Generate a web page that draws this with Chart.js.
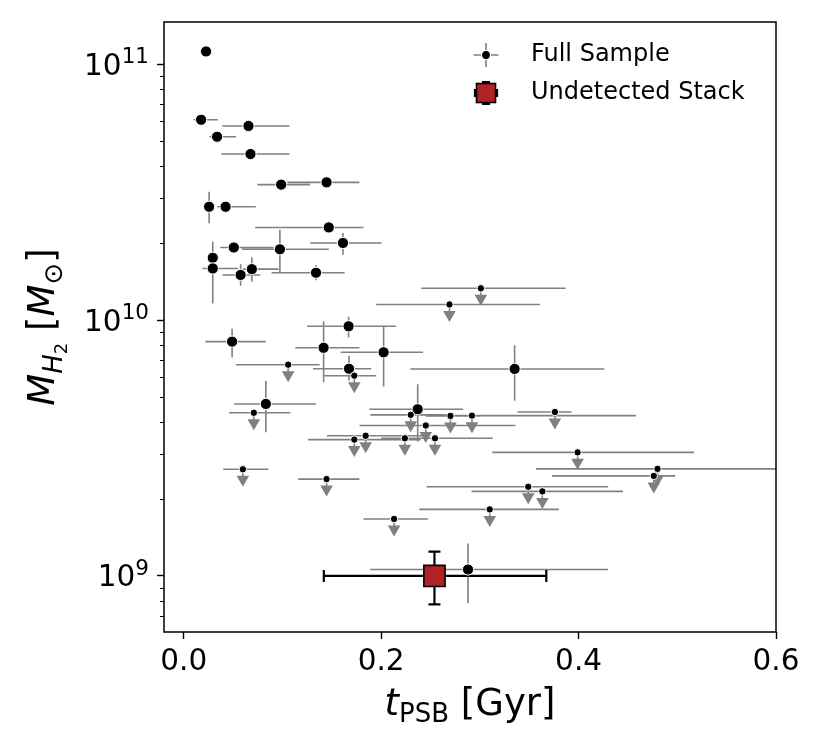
<!DOCTYPE html>
<html>
<head>
<meta charset="utf-8">
<script src="https://cdn.jsdelivr.net/npm/chart.js@4.4.0/dist/chart.umd.min.js"></script>
<style>
  html, body { margin: 0; padding: 0; background: #fff; }
  #wrap { width: 825px; height: 750px; }
</style>
</head>
<body>
<div id="wrap"><canvas id="myChart" width="825" height="750"></canvas></div>
<script>
// detections: t_PSB [Gyr], M_H2 [Msun], error bar ends (null = no bar)
const detT   = [0.0226, 0.0176, 0.0656, 0.0338, 0.0676, 0.0987, 0.1447, 0.0257, 0.0424, 0.1469, 0.1613, 0.0507, 0.0974,
                0.0294, 0.0294, 0.0576, 0.069, 0.134, 0.167, 0.049, 0.1417, 0.2025, 0.1674, 0.3352, 0.0832, 0.237, 0.288];
const detM   = [1.12e11, 6.06e10, 5.73e10, 5.20e10, 4.45e10, 3.38e10, 3.45e10, 2.77e10, 2.77e10, 2.30e10, 2.00e10, 1.92e10, 1.89e10,
                1.75e10, 1.59e10, 1.50e10, 1.58e10, 1.53e10, 9.45e9, 8.23e9, 7.79e9, 7.48e9, 6.45e9, 6.44e9, 4.70e9, 4.48e9, 1.06e9];
const detTLo = [null, 0.010, 0.039, 0.026, 0.038, 0.0745, 0.105, 0.020, 0.034, 0.0723, 0.128, 0.037, 0.059,
                0.025, 0.019, 0.0392, 0.060, 0.089, 0.125, 0.022, 0.113, 0.159, 0.131, 0.2296, 0.051, 0.188, 0.189];
const detTHi = [null, 0.0345, 0.107, 0.053, 0.107, 0.128, 0.178, 0.030, 0.073, 0.182, 0.2005, 0.091, 0.147,
                0.034, 0.055, 0.0775, 0.096, 0.163, 0.215, 0.083, 0.178, 0.2425, 0.19, 0.426, 0.134, 0.283, 0.43];
const detMLo = [null, null, null, null, null, null, null, 2.39e10, null, null, 1.80e10, null, 1.52e10,
                1.52e10, 1.16e10, 1.36e10, 1.41e10, 1.43e10, 8.55e9, 7.15e9, 5.71e9, 5.5e9, 5.8e9, 4.84e9, 3.64e9, 3.35e9, 7.82e8];
const detMHi = [null, null, null, null, null, null, null, 3.17e10, null, null, 2.19e10, null, 2.25e10,
                2.02e10, 1.84e10, 1.65e10, 1.76e10, 1.64e10, 1.03e10, 9.25e9, 9.9e9, 9.42e9, 7.23e9, 7.96e9, 5.78e9, 5.61e9, 1.34e9];

// upper limits
const limT   = [0.301, 0.2692, 0.1058, 0.1728, 0.071, 0.2299, 0.2702, 0.292, 0.376, 0.2452, 0.224, 0.2545,
                0.1728, 0.1843, 0.399, 0.0599, 0.48, 0.4762, 0.1447, 0.349, 0.3633, 0.310, 0.2131];
const limM   = [1.33e10, 1.15e10, 6.69e9, 6.06e9, 4.34e9, 4.26e9, 4.22e9, 4.23e9, 4.37e9, 3.87e9, 3.45e9, 3.45e9,
                3.41e9, 3.53e9, 3.04e9, 2.61e9, 2.62e9, 2.46e9, 2.39e9, 2.23e9, 2.14e9, 1.82e9, 1.67e9];
const limTLo = [0.2405, 0.195, 0.053, 0.1427, 0.046, 0.189, 0.245, 0.262, 0.338, 0.178, 0.20, 0.21,
                0.126, 0.145, 0.3125, 0.040, 0.357, 0.373, 0.116, 0.246, 0.2915, 0.2385, 0.182];
const limTHi = [0.387, 0.361, 0.1376, 0.1948, 0.108, 0.27, 0.30, 0.458, 0.393, 0.336, 0.30, 0.313,
                0.24, 0.245, 0.517, 0.0858, 0.62, 0.498, 0.178, 0.43, 0.445, 0.38, 0.2476];

// undetected stack
const stackT = [0.254];
const stackM = [1.0e9];
const stackTLo = [0.1419];
const stackTHi = [0.3673];
const stackMLo = [7.74e8];
const stackMHi = [1.245e9];

// axes
const xTicks = [0.0, 0.2, 0.4, 0.6];
const yTicks = [1e9, 1e10, 1e11];
const yTickExp = ['9', '10', '11'];
const legendLabels = ['Full Sample', 'Undetected Stack'];

const GRAY = '#808080';
const RED = '#b22222';
const FONT = "'DejaVu Sans'";

Chart.defaults.font.family = FONT;
Chart.defaults.color = '#000';

function measureRuns(ctx, runs) {
    let total = 0;
    runs.forEach(r => {
        ctx.font = (r.it ? 'italic ' : '') + r.size + 'px ' + FONT;
        r.w = ctx.measureText(r.t).width;
        total += r.w;
    });
    return total;
}

function drawRuns(ctx, runs, x, y, align) {
    // text pieces with their own size/style/offset
    const total = measureRuns(ctx, runs);
    let cx = align === 'right' ? x - total : x - total / 2;
    ctx.textAlign = 'left';
    ctx.textBaseline = 'alphabetic';
    runs.forEach(r => {
        ctx.font = (r.it ? 'italic ' : '') + r.size + 'px ' + FONT;
        ctx.fillText(r.t, cx, y + (r.dy || 0));
        cx += r.w;
    });
}

const errorBars = {
    id: 'errorBars',
    beforeDatasetsDraw(chart) {
        const ctx = chart.ctx, a = chart.chartArea;
        const xs = chart.scales.x, ys = chart.scales.y;
        ctx.save();
        ctx.beginPath();
        ctx.rect(a.left, a.top, a.right - a.left, a.bottom - a.top);
        ctx.clip();
        ctx.strokeStyle = GRAY;
        ctx.fillStyle = GRAY;
        ctx.lineWidth = 1.6;
        ctx.beginPath();
        detT.forEach((t, i) => {
            const px = xs.getPixelForValue(t), py = ys.getPixelForValue(detM[i]);
            if (detTLo[i] != null) {
                ctx.moveTo(xs.getPixelForValue(detTLo[i]), py);
                ctx.lineTo(xs.getPixelForValue(detTHi[i]), py);
            }
            if (detMLo[i] != null) {
                ctx.moveTo(px, ys.getPixelForValue(detMHi[i]));
                ctx.lineTo(px, ys.getPixelForValue(detMLo[i]));
            }
        });
        limT.forEach((t, i) => {
            const px = xs.getPixelForValue(t), py = ys.getPixelForValue(limM[i]);
            ctx.moveTo(xs.getPixelForValue(limTLo[i]), py);
            ctx.lineTo(xs.getPixelForValue(limTHi[i]), py);
            ctx.moveTo(px, py);
            ctx.lineTo(px, py + 7);
        });
        ctx.stroke();
        // arrow heads for the upper limits
        limT.forEach((t, i) => {
            const px = xs.getPixelForValue(t), py = ys.getPixelForValue(limM[i]);
            ctx.beginPath();
            ctx.moveTo(px - 6.3, py + 6.5);
            ctx.lineTo(px + 6.3, py + 6.5);
            ctx.lineTo(px, py + 17.5);
            ctx.closePath();
            ctx.fill();
        });
        // stack error bars, black with caps
        ctx.strokeStyle = '#000';
        ctx.lineWidth = 2.2;
        ctx.beginPath();
        stackT.forEach((t, i) => {
            const px = xs.getPixelForValue(t), py = ys.getPixelForValue(stackM[i]);
            const x1 = xs.getPixelForValue(stackTLo[i]), x2 = xs.getPixelForValue(stackTHi[i]);
            const y1 = ys.getPixelForValue(stackMHi[i]), y2 = ys.getPixelForValue(stackMLo[i]);
            ctx.moveTo(x1, py); ctx.lineTo(x2, py);
            ctx.moveTo(px, y1); ctx.lineTo(px, y2);
            ctx.moveTo(x1, py - 6); ctx.lineTo(x1, py + 6);
            ctx.moveTo(x2, py - 6); ctx.lineTo(x2, py + 6);
            ctx.moveTo(px - 6, y1); ctx.lineTo(px + 6, y1);
            ctx.moveTo(px - 6, y2); ctx.lineTo(px + 6, y2);
        });
        ctx.stroke();
        ctx.restore();
    },
    afterDraw(chart) {
        const ctx = chart.ctx, a = chart.chartArea;
        const ys = chart.scales.y;
        ctx.save();
        // frame
        ctx.strokeStyle = '#000';
        ctx.lineWidth = 1.5;
        ctx.strokeRect(a.left, a.top, a.right - a.left, a.bottom - a.top);
        // minor log ticks
        ctx.lineWidth = 1;
        ctx.beginPath();
        for (let d = 8; d <= 11; d++) {
            for (let k = 2; k <= 9; k++) {
                const v = k * Math.pow(10, d);
                if (v < ys.min || v > ys.max) continue;
                const py = Math.round(ys.getPixelForValue(v)) + 0.5;
                ctx.moveTo(a.left, py);
                ctx.lineTo(a.left - 4, py);
            }
        }
        ctx.stroke();

        ctx.fillStyle = '#000';
        // y tick labels as 10 with a raised exponent
        yTicks.forEach((v, i) => {
            const py = ys.getPixelForValue(v);
            drawRuns(ctx, [
                {t: '10', size: 29.5},
                {t: yTickExp[i], size: 21.5, dy: -11.5}
            ], a.left - 15, py + 10.5, 'right');
        });
        // x title
        drawRuns(ctx, [
            {t: 't', size: 37, it: true},
            {t: 'PSB', size: 26, dy: 7},
            {t: ' [Gyr]', size: 37}
        ], (a.left + a.right) / 2, 715);
        // y title
        ctx.save();
        ctx.translate(54, (a.top + a.bottom) / 2);
        ctx.rotate(-Math.PI / 2);
        drawRuns(ctx, [
            {t: 'M', size: 37, it: true},
            {t: 'H', size: 26, it: true, dy: 8},
            {t: '2', size: 18, dy: 13},
            {t: ' [', size: 37},
            {t: 'M', size: 37, it: true},
            {t: '\u2299', size: 26, dy: 8},
            {t: ']', size: 37}
        ], 0, 0);
        ctx.restore();

        // legend
        const lx = 486, ly1 = 55, ly2 = 93;
        ctx.strokeStyle = GRAY;
        ctx.lineWidth = 1.6;
        ctx.beginPath();
        ctx.moveTo(lx - 12.5, ly1); ctx.lineTo(lx + 12.5, ly1);
        ctx.moveTo(lx, ly1 - 12); ctx.lineTo(lx, ly1 + 12);
        ctx.stroke();
        ctx.beginPath();
        ctx.arc(lx, ly1, 4.5, 0, Math.PI * 2);
        ctx.fillStyle = '#000';
        ctx.fill();
        ctx.strokeStyle = '#fff';
        ctx.lineWidth = 1.2;
        ctx.stroke();

        ctx.strokeStyle = '#000';
        ctx.lineWidth = 2.2;
        ctx.beginPath();
        ctx.moveTo(lx - 11, ly2); ctx.lineTo(lx + 11, ly2);
        ctx.moveTo(lx, ly2 - 11); ctx.lineTo(lx, ly2 + 11);
        ctx.moveTo(lx - 11, ly2 - 4); ctx.lineTo(lx - 11, ly2 + 4);
        ctx.moveTo(lx + 11, ly2 - 4); ctx.lineTo(lx + 11, ly2 + 4);
        ctx.moveTo(lx - 4, ly2 - 11); ctx.lineTo(lx + 4, ly2 - 11);
        ctx.moveTo(lx - 4, ly2 + 11); ctx.lineTo(lx + 4, ly2 + 11);
        ctx.stroke();
        ctx.fillStyle = RED;
        ctx.fillRect(lx - 9.5, ly2 - 9.5, 19, 19);
        ctx.lineWidth = 1.6;
        ctx.strokeRect(lx - 9.5, ly2 - 9.5, 19, 19);

        ctx.fillStyle = '#000';
        ctx.font = '24px ' + FONT;
        ctx.textAlign = 'left';
        ctx.textBaseline = 'middle';
        ctx.fillText(legendLabels[0], 531, ly1);
        ctx.fillText(legendLabels[1], 531, ly2);
        ctx.restore();
    }
};

const toPts = (xs, ys) => xs.map((v, i) => ({x: v, y: ys[i]}));

const ctx = document.getElementById('myChart').getContext('2d');
const myChart = new Chart(ctx, {
    type: 'scatter',
    data: {
        datasets: [{
            label: legendLabels[1],
            data: toPts(stackT, stackM),
            pointStyle: 'rect',
            pointRadius: 15,
            backgroundColor: RED,
            borderColor: '#000',
            borderWidth: 1.6
        }, {
            label: legendLabels[0] + ' (upper limits)',
            data: toPts(limT, limM),
            pointRadius: 3.7,
            backgroundColor: '#000',
            borderColor: '#fff',
            borderWidth: 1
        }, {
            label: legendLabels[0],
            data: toPts(detT, detM),
            pointRadius: 5.6,
            backgroundColor: '#000',
            borderColor: '#fff',
            borderWidth: 1
        }]
    },
    options: {
        responsive: false,
        animation: false,
        devicePixelRatio: 1,
        layout: { padding: { top: 22, right: 49, left: 0, bottom: 0 } },
        plugins: {
            legend: { display: false },
            tooltip: { enabled: false }
        },
        scales: {
            x: {
                type: 'linear',
                min: -0.02,
                max: 0.6,
                afterBuildTicks: s => { s.ticks = xTicks.map(v => ({value: v})); },
                afterFit: s => { s.height = 118; s.paddingLeft = 0; s.paddingRight = 0; },
                ticks: {
                    font: { size: 29.5 },
                    color: '#000',
                    padding: 6,
                    maxRotation: 0,
                    callback: (v, i) => xTicks[i].toFixed(1)
                },
                grid: { drawOnChartArea: false, tickLength: 7, tickColor: '#000', tickWidth: 1.4 },
                border: { display: false }
            },
            y: {
                type: 'logarithmic',
                min: 6.04e8,
                max: 1.46e11,
                afterBuildTicks: s => { s.ticks = yTicks.map(v => ({value: v, major: true})); },
                afterFit: s => { s.width = 164; s.paddingTop = 0; s.paddingBottom = 0; },
                ticks: {
                    display: false
                },
                grid: { drawOnChartArea: false, tickLength: 7, tickColor: '#000', tickWidth: 1.4 },
                border: { display: false }
            }
        }
    },
    plugins: [errorBars]
});
</script>
</body>
</html>
